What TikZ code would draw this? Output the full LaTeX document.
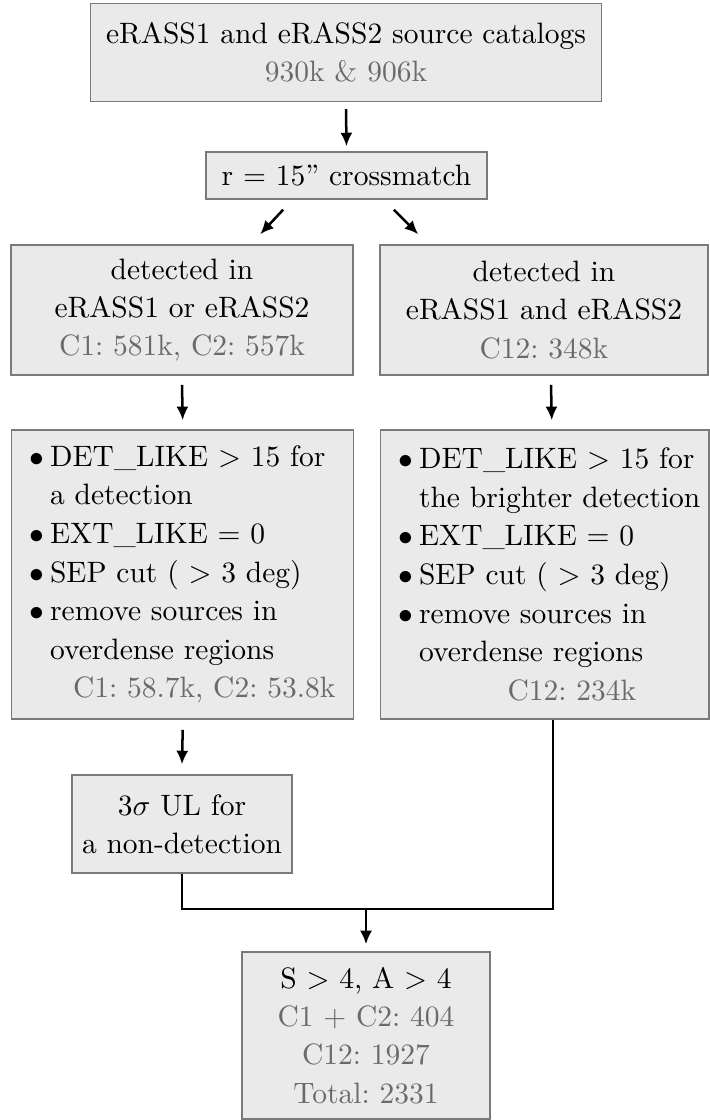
\documentclass[tikz,border=0pt]{standalone}
\usetikzlibrary{arrows.meta,calc}
\definecolor{boxfill}{HTML}{EAEAEA}
\definecolor{boxline}{HTML}{7A7A7A}
\definecolor{numgray}{HTML}{6A6A6A}
\newcommand\bul{\makebox[7pt][l]{$\bullet$}}
\newcommand\cont{\hspace*{7pt}}
\begin{document}
\frenchspacing
\begin{tikzpicture}[x=0.33898pt,y=-0.33898pt,
  box/.style={draw=boxline,fill=boxfill,line width=0.5pt,inner sep=0pt,align=center,font=\fontsize{10}{13}\selectfont\frenchspacing},
  lst/.style={draw=boxline,fill=boxfill,line width=0.5pt,inner ysep=0pt,inner xsep=6pt,align=left,anchor=west,font=\fontsize{10}{13.1}\selectfont\frenchspacing},
  arr/.style={line width=0.85pt,-{Latex[length=4.6pt,width=4.1pt]}},
  conn/.style={line width=0.85pt}]
\useasboundingbox (0,0) rectangle (710,1120);

\node[box,minimum width=173.2pt,minimum height=33.2pt] (top) at (346,52.5)
  {eRASS1 and eRASS2 source catalogs\\ \textcolor{numgray}{930k \& 906k}};
\node[box,minimum width=95.3pt,minimum height=15.9pt] (cross) at (346.5,175.5)
  {r $=$ 15'' crossmatch};
\node[box,minimum width=115.9pt,minimum height=44.1pt] (det1) at (182,310)
  {detected in\\ eRASS1 or eRASS2\\ \textcolor{numgray}{C1: 581k, C2: 557k}};
\node[box,minimum width=111.2pt,minimum height=44.1pt] (det2) at (544,310)
  {detected in\\ eRASS1 and eRASS2\\ \textcolor{numgray}{C12: 348k}};
\node[lst,text width=103.9pt,minimum height=98pt] (list1) at (11,574.5)
  {\mbox{\bul DET\_LIKE $>$ 15 for}\\
   \mbox{\cont a detection}\\
   \mbox{\bul EXT\_LIKE $=$ 0}\\
   \mbox{\bul SEP cut ( $>$ 3 deg)}\\
   \mbox{\bul remove sources in}\\
   \mbox{\cont overdense regions}\\
   \mbox{\hspace*{14.8pt}\textcolor{numgray}{C1: 58.7k, C2: 53.8k}}};
\node[lst,text width=99.2pt,minimum height=98pt] (list2) at (380,574.5)
  {\mbox{\bul DET\_LIKE $>$ 15 for}\\
   \mbox{\cont the brighter detection}\\
   \mbox{\bul EXT\_LIKE $=$ 0}\\
   \mbox{\bul SEP cut ( $>$ 3 deg)}\\
   \mbox{\bul remove sources in}\\
   \mbox{\cont overdense regions}\\
   \mbox{\hspace*{37pt}\textcolor{numgray}{C12: 234k}}};
\node[box,minimum width=74.6pt,minimum height=33.2pt] (ul) at (182,824)
  {3$\sigma$ UL for\\ a non-detection};
\node[box,minimum width=84.1pt,minimum height=56.6pt] (final) at (366,1035.5)
  {S $>$ 4, A $>$ 4\\ \textcolor{numgray}{C1 $+$ C2: 404}\\ \textcolor{numgray}{C12: 1927}\\ \textcolor{numgray}{Total: 2331}};

\draw[arr] ($(top.south)+(0,7)$) -- ($(cross.north)+(0,-5)$);
\draw[arr] ($(cross.south west)+(78,10)$) -- ($(det1.north east)+(-93.5,-10)$);
\draw[arr] ($(cross.south east)+(-94,10)$) -- ($(det2.north west)+(39,-10)$);
\draw[arr] ($(det1.south)+(0,9)$) -- ($(list1.north)+(0,-9)$);
\draw[arr] ($(det2.south)+(7,9)$) -- ($(list2.north)+(7,-9)$);
\draw[arr] ($(list1.south)+(0,10)$) -- ($(ul.north)+(0,-10)$);
\coordinate (j) at (366,909);
\draw[conn] (ul.south) |- (j) -| ($(list2.south)+(8,0)$);
\draw[arr] (j) -- ($(final.north)+(0,-7)$);
\end{tikzpicture}
\end{document}
